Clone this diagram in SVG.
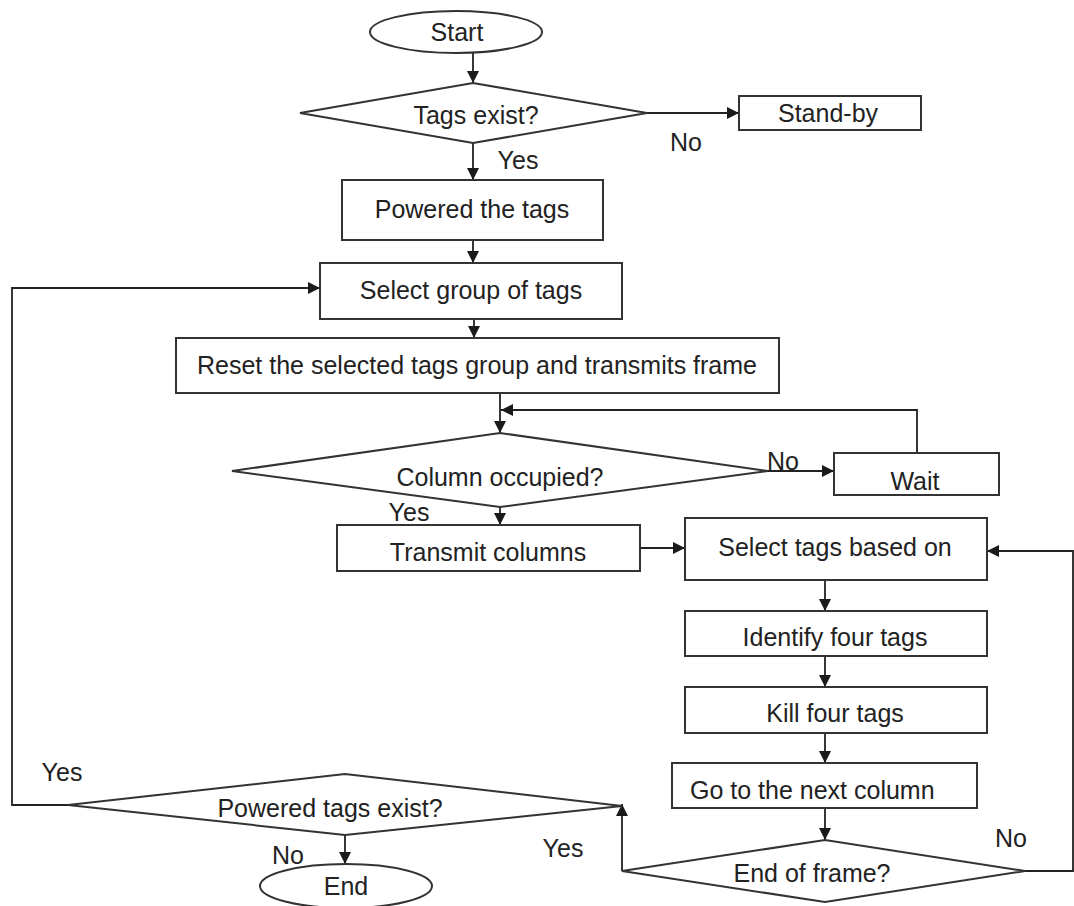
<svg xmlns="http://www.w3.org/2000/svg" width="1074" height="906" viewBox="0 0 1074 906">
  <defs>
    <marker id="arrow" viewBox="0 0 10 10" refX="10" refY="5" markerWidth="13" markerHeight="12" markerUnits="userSpaceOnUse" orient="auto">
      <path d="M0,0 L10,5 L0,10 z" fill="#1a1a1a"/>
    </marker>
    <style>
      .shape { fill: #ffffff; stroke: #333333; stroke-width: 2; }
      .label { font-family: "Liberation Sans", Arial, sans-serif; font-size: 25px; fill: #222222; text-anchor: middle; }
      .edge { fill: none; stroke: #222222; stroke-width: 1.8; }
      .arrow { marker-end: url(#arrow); }
    </style>
  </defs>
  <rect width="1074" height="906" fill="#ffffff"/>

  <!-- connectors -->
  <g id="connectors">
    <line class="edge arrow" x1="473" y1="53" x2="473" y2="83"/>
    <line class="edge arrow" x1="647" y1="113" x2="739" y2="113"/>
    <line class="edge arrow" x1="473" y1="143" x2="473" y2="180"/>
    <line class="edge arrow" x1="473" y1="240" x2="473" y2="263"/>
    <line class="edge arrow" x1="474" y1="319" x2="474" y2="338"/>
    <line class="edge arrow" x1="500" y1="393" x2="500" y2="433"/>
    <polyline class="edge arrow" points="917,453 917,410 501,410"/>
    <line class="edge arrow" x1="768" y1="471" x2="834" y2="471"/>
    <line class="edge arrow" x1="500" y1="507" x2="500" y2="525"/>
    <line class="edge arrow" x1="640" y1="548" x2="685" y2="548"/>
    <line class="edge arrow" x1="825" y1="580" x2="825" y2="611"/>
    <line class="edge arrow" x1="825" y1="656" x2="825" y2="687"/>
    <line class="edge arrow" x1="825" y1="733" x2="825" y2="763"/>
    <line class="edge arrow" x1="825" y1="808" x2="825" y2="840"/>
    <polyline class="edge arrow" points="1025,871 1073,871 1073,551 987,551"/>
    <line class="edge arrow" x1="622" y1="871" x2="622" y2="804"/>
    <polyline class="edge arrow" points="68,805 12,805 12,288 320,288"/>
    <line class="edge arrow" x1="345" y1="835" x2="345" y2="864"/>

    <text class="label" x="686" y="151">No</text>
    <text class="label" x="518" y="169">Yes</text>
    <text class="label" x="783" y="470">No</text>
    <text class="label" x="409" y="521">Yes</text>
    <text class="label" x="62" y="781">Yes</text>
    <text class="label" x="288" y="864">No</text>
    <text class="label" x="563" y="857">Yes</text>
    <text class="label" x="1011" y="847">No</text>
  </g>

  <g id="start">
    <ellipse class="shape" cx="456" cy="32" rx="86" ry="21"/>
    <text class="label" x="457" y="41">Start</text>
  </g>

  <g id="tags-exist">
    <polygon class="shape" points="300,113 473,83 647,113 473,143"/>
    <text class="label" x="476" y="124">Tags exist?</text>
  </g>

  <g id="stand-by">
    <rect class="shape" x="739" y="96" width="182" height="34"/>
    <text class="label" x="828" y="122">Stand-by</text>
  </g>

  <g id="powered-the-tags">
    <rect class="shape" x="342" y="180" width="261" height="60"/>
    <text class="label" x="472" y="218">Powered the tags</text>
  </g>

  <g id="select-group">
    <rect class="shape" x="320" y="263" width="302" height="56"/>
    <text class="label" x="471" y="299">Select group of tags</text>
  </g>

  <g id="reset-group">
    <rect class="shape" x="176" y="338" width="603" height="55"/>
    <text class="label" x="477" y="374">Reset the selected tags group and transmits frame</text>
  </g>

  <g id="column-occupied">
    <polygon class="shape" points="232,471 500,433 768,471 500,507"/>
    <text class="label" x="500" y="486">Column occupied?</text>
  </g>

  <g id="wait">
    <rect class="shape" x="834" y="453" width="165" height="42"/>
    <text class="label" x="915" y="490">Wait</text>
  </g>

  <g id="transmit-columns">
    <rect class="shape" x="337" y="525" width="303" height="46"/>
    <text class="label" x="488" y="561">Transmit columns</text>
  </g>

  <g id="select-tags">
    <rect class="shape" x="685" y="518" width="302" height="62"/>
    <text class="label" x="835" y="556">Select tags based on</text>
  </g>

  <g id="identify-four-tags">
    <rect class="shape" x="685" y="611" width="302" height="45"/>
    <text class="label" x="835" y="646">Identify four tags</text>
  </g>

  <g id="kill-four-tags">
    <rect class="shape" x="685" y="687" width="302" height="46"/>
    <text class="label" x="835" y="722">Kill four tags</text>
  </g>

  <g id="next-column">
    <rect class="shape" x="672" y="763" width="305" height="45"/>
    <text class="label" x="690" y="799" style="text-anchor:start">Go to the next column</text>
  </g>

  <g id="end-of-frame">
    <polygon class="shape" points="622,871 825,840 1025,871 825,902"/>
    <text class="label" x="812" y="882">End of frame?</text>
  </g>

  <g id="powered-tags-exist">
    <polygon class="shape" points="68,805 345,774 622,806 345,835"/>
    <text class="label" x="330" y="817">Powered tags exist?</text>
  </g>

  <g id="end">
    <ellipse class="shape" cx="346" cy="886" rx="86" ry="22"/>
    <text class="label" x="346" y="895">End</text>
  </g>
</svg>
